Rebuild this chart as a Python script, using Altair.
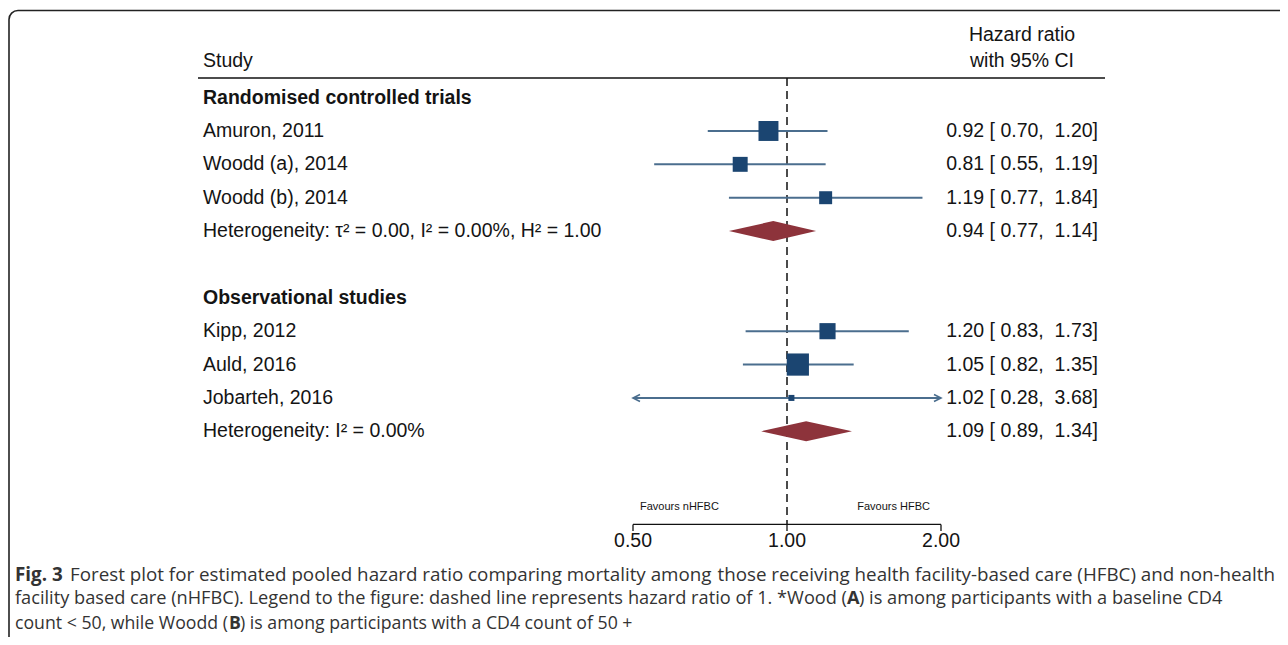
import altair as alt
import pandas as pd

# ---------------- data ----------------
studies = ["Amuron, 2011", "Woodd (a), 2014", "Woodd (b), 2014",
           "Kipp, 2012", "Auld, 2016", "Jobarteh, 2016"]
study_rows = [1, 2, 3, 7, 8, 9]
hr = [0.92, 0.81, 1.19, 1.20, 1.05, 1.02]
ci_lo = [0.70, 0.55, 0.77, 0.83, 0.82, 0.28]
ci_hi = [1.20, 1.19, 1.84, 1.73, 1.35, 3.68]
weights = [50.4, 28.3, 21.3, 33.0, 62.4, 4.6]

groups = ["Randomised controlled trials", "Observational studies"]
group_rows = [0, 6]
het_labels = ["Heterogeneity: \u03c4\u00b2 = 0.00, I\u00b2 = 0.00%, H\u00b2 = 1.00",
              "Heterogeneity: I\u00b2 = 0.00%"]
pooled_rows = [4, 10]
pooled_hr = [0.94, 1.09]
pooled_lo = [0.77, 0.89]
pooled_hi = [1.14, 1.34]

axis_ticks = [0.5, 1.0, 2.0]
axis_labels = ["0.50", "1.00", "2.00"]
axis_min, axis_max = 0.5, 2.0
favours = ["Favours nHFBC", "Favours HFBC"]

caption_segments = [
    # (text, bold, line, x, align)
    ("Fig. 3", True, 0, 7, "left"),
    ("Forest plot for estimated pooled hazard ratio comparing mortality among", False, 0, 62, "left"),
    ("those receiving health facility-based care (HFBC) and non-health", False, 0, 1267, "right"),
    ("facility based care (nHFBC). Legend to the figure: dashed line represents", False, 1, 7, "left"),
    ("hazard ratio of 1. *Wood (", False, 1, 839, "right"),
    ("A", True, 1, 839, "left"),
    (") is among participants with a baseline CD4", False, 1, 851, "left"),
    ("count < 50, while Woodd (", False, 2, 7, "left"),
    ("B", True, 2, 221, "left"),
    (") is among participants with a CD4 count of 50 +", False, 2, 232, "left"),
]
caption_line_y = [567, 591, 616]
caption_line_fs = [18.8, 18.2, 17.7]

# ---------------- layout ----------------
W, H = 1272, 629
X_ONE_PX = 779
PX_PER_DOUBLING = 154
ROW0_PX = 89.6
ROW_STEP = 33.37

x_domain = [2 ** ((0 - X_ONE_PX) / PX_PER_DOUBLING), 2 ** ((W - X_ONE_PX) / PX_PER_DOUBLING)]
y_domain = [(0 - ROW0_PX) / ROW_STEP, (H - ROW0_PX) / ROW_STEP]
xs = alt.Scale(type="log", domain=x_domain, nice=False)
ys = alt.Scale(domain=y_domain, reverse=True, nice=False, zero=False)

LABEL_X = 195
VALUE_X = 1090
HEADER_X = 1014
FONT = "Liberation Sans"
FS = 19.5
TXT = "#141414"
BLUE_LINE = "#4b6e8e"
BLUE = "#1b4571"
RED = "#8d333b"
CAP_FONT = "Open Sans"

# rows relative to the table
ROW_HEADER2 = -1.097
ROW_HEADER1 = -1.876
ROW_RULE = -0.587
ROW_FAV = 12.28
ROW_AXIS = 12.79
ROW_TICK_END = 12.99
ROW_TICKLAB = 13.30

def X(field):
    return alt.X(field, type="quantitative", scale=xs, axis=None)

def Y(field):
    return alt.Y(field, type="quantitative", scale=ys, axis=None)

# study table
sdf = pd.DataFrame({
    "study": studies, "row": study_rows, "hr": hr, "lo": ci_lo, "hi": ci_hi, "w": weights,
})
sdf["lo_c"] = sdf["lo"].clip(lower=axis_min)
sdf["hi_c"] = sdf["hi"].clip(upper=axis_max)
sdf["label"] = [f"{a:.2f} [ {b:.2f},\u00a0 {c:.2f}]" for a, b, c in zip(hr, ci_lo, ci_hi)]

pdf = pd.DataFrame({"label": het_labels, "row": pooled_rows, "hr": pooled_hr,
                    "lo": pooled_lo, "hi": pooled_hi})
pdf["vlabel"] = [f"{a:.2f} [ {b:.2f},\u00a0 {c:.2f}]" for a, b, c in zip(pooled_hr, pooled_lo, pooled_hi)]

# diamond polygons
half_h = 0.3
drows = []
for i in range(len(pooled_rows)):
    r = pooled_rows[i]
    drows.append({"g": i, "x": pooled_lo[i], "y": r, "y2": r})
    drows.append({"g": i, "x": pooled_hr[i], "y": r - half_h, "y2": r + half_h})
    drows.append({"g": i, "x": pooled_hi[i], "y": r, "y2": r})
ddf = pd.DataFrame(drows)

gdf = pd.DataFrame({"label": groups, "row": group_rows})

one = pd.DataFrame({"a": [0]})

layers = []

# frame
layers.append(alt.Chart(one).mark_rect(fillOpacity=0, stroke="#222222", strokeWidth=1.6,
                                       cornerRadius=9).encode(
    x=alt.value(1), x2=alt.value(1330), y=alt.value(2.5), y2=alt.value(670)))

# header rule
layers.append(alt.Chart(pd.DataFrame({"row": [ROW_RULE]})).mark_rule(
    color="#111111", strokeWidth=1.6).encode(
    x=alt.value(LABEL_X - 5), x2=alt.value(VALUE_X + 7), y=Y("row")))

# dashed reference line
layers.append(alt.Chart(pd.DataFrame({"x": [1.0], "y": [ROW_RULE], "y2": [ROW_AXIS]})).mark_rule(
    color="#111111", strokeWidth=1.5, strokeDash=[8, 5]).encode(
    x=X("x"), y=Y("y"), y2="y2"))

# CI lines
layers.append(alt.Chart(sdf).mark_rule(color=BLUE_LINE, strokeWidth=2).encode(
    x=X("lo_c"), x2="hi_c", y=Y("row")))

# arrows where CI is clipped
left_arr = sdf[sdf["lo"] < axis_min]
right_arr = sdf[sdf["hi"] > axis_max]
layers.append(alt.Chart(left_arr).mark_point(shape="M2,-1L0,0L2,1", filled=False, size=49,
                                             stroke=BLUE_LINE, strokeWidth=1.6, opacity=1).encode(
    x=X("lo_c"), y=Y("row")))
layers.append(alt.Chart(right_arr).mark_point(shape="M-2,-1L0,0L-2,1", filled=False, size=49,
                                              stroke=BLUE_LINE, strokeWidth=1.6, opacity=1).encode(
    x=X("hi_c"), y=Y("row")))

# squares
layers.append(alt.Chart(sdf).mark_square(color=BLUE, opacity=1, strokeWidth=0).encode(
    x=X("hr"), y=Y("row"),
    size=alt.Size("w:Q", scale=alt.Scale(domain=[0, 100], range=[0, 790]), legend=None)))

# diamonds
layers.append(alt.Chart(ddf).mark_area(color=RED, opacity=1).encode(
    x=X("x"), y=Y("y"), y2="y2", detail="g:N"))

# text: headers
layers.append(alt.Chart(pd.DataFrame({"t": ["Study"], "row": [ROW_HEADER2]})).mark_text(
    align="left", baseline="middle", font=FONT, fontSize=FS, color=TXT).encode(
    x=alt.value(LABEL_X), y=Y("row"), text="t:N"))
layers.append(alt.Chart(pd.DataFrame({"t": ["Hazard ratio", "with 95% CI"],
                                      "row": [ROW_HEADER1, ROW_HEADER2]})).mark_text(
    align="center", baseline="middle", font=FONT, fontSize=FS, color=TXT).encode(
    x=alt.value(HEADER_X), y=Y("row"), text="t:N"))

# group titles
layers.append(alt.Chart(gdf).mark_text(
    align="left", baseline="middle", font=FONT, fontSize=FS, fontWeight="bold", color=TXT).encode(
    x=alt.value(LABEL_X), y=Y("row"), text="label:N"))

# study labels and heterogeneity labels
layers.append(alt.Chart(sdf).mark_text(
    align="left", baseline="middle", font=FONT, fontSize=FS, color=TXT).encode(
    x=alt.value(LABEL_X), y=Y("row"), text="study:N"))
layers.append(alt.Chart(pdf).mark_text(
    align="left", baseline="middle", font=FONT, fontSize=FS, color=TXT).encode(
    x=alt.value(LABEL_X), y=Y("row"), text="label:N"))

# value columns
layers.append(alt.Chart(sdf).mark_text(
    align="right", baseline="middle", font=FONT, fontSize=FS, color=TXT).encode(
    x=alt.value(VALUE_X), y=Y("row"), text="label:N"))
layers.append(alt.Chart(pdf).mark_text(
    align="right", baseline="middle", font=FONT, fontSize=FS, color=TXT).encode(
    x=alt.value(VALUE_X), y=Y("row"), text="vlabel:N"))

# axis
adf = pd.DataFrame({"x": [axis_min], "x2": [axis_max], "row": [ROW_AXIS]})
layers.append(alt.Chart(adf).mark_rule(color="#111111", strokeWidth=1.3).encode(
    x=X("x"), x2="x2", y=Y("row")))
tdf = pd.DataFrame({"x": axis_ticks, "lab": axis_labels, "y": [ROW_AXIS] * 3,
                    "y2": [ROW_TICK_END] * 3, "ly": [ROW_TICKLAB] * 3})
layers.append(alt.Chart(tdf).mark_rule(color="#111111", strokeWidth=1.3).encode(
    x=X("x"), y=Y("y"), y2="y2"))
layers.append(alt.Chart(tdf).mark_text(
    align="center", baseline="middle", font=FONT, fontSize=FS, color=TXT).encode(
    x=X("x"), y=Y("ly"), text="lab:N"))

# favours labels
layers.append(alt.Chart(pd.DataFrame({"t": [favours[0]], "row": [ROW_FAV]})).mark_text(
    align="left", baseline="middle", font=FONT, fontSize=11, color=TXT).encode(
    x=alt.value(632), y=Y("row"), text="t:N"))
layers.append(alt.Chart(pd.DataFrame({"t": [favours[1]], "row": [ROW_FAV]})).mark_text(
    align="right", baseline="middle", font=FONT, fontSize=11, color=TXT).encode(
    x=alt.value(922), y=Y("row"), text="t:N"))

# caption
for text, bold, line, xpx, align in caption_segments:
    layers.append(alt.Chart(pd.DataFrame({"t": [text]})).mark_text(
        align=align, baseline="middle", font=CAP_FONT, fontSize=caption_line_fs[line],
        fontWeight="bold" if bold else "normal", color="#333333").encode(
        x=alt.value(xpx), y=alt.value(caption_line_y[line]), text="t:N"))

chart = alt.layer(*layers).properties(
    width=W, height=H, padding=0, autosize=alt.AutoSizeParams(type="none"),
    background="white",
).configure_view(stroke=None)

chart.save("out.html", embed_options={"renderer": "svg", "actions": False})
